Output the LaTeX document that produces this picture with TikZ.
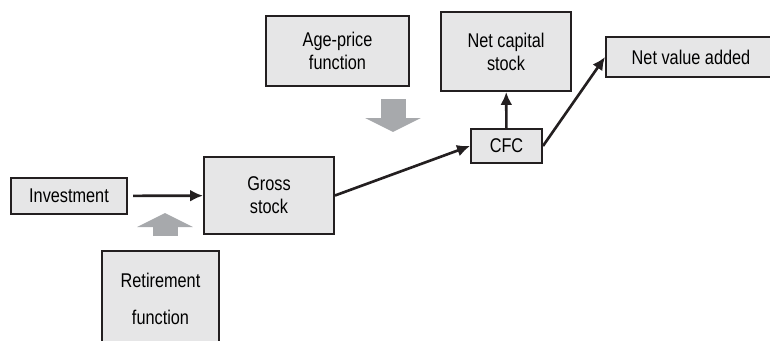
\documentclass[tikz,border=0pt]{standalone}
\usepackage{fontspec}
\setmainfont{Liberation Sans}[FakeStretch=0.82]
\usetikzlibrary{arrows.meta}
\definecolor{boxfill}{RGB}{230,230,231}
\definecolor{ink}{RGB}{35,31,32}
\definecolor{shade}{RGB}{167,169,172}
\tikzset{
  box/.style= {draw=ink, fill=boxfill, line width=1.1pt, inner sep=0pt,
               align=center, font=\fontsize{11.3}{13}\selectfont},
  conn/.style= {draw=ink, line width=1.5pt, -{Latex[length=2.6mm, width=2.4mm]}},
  bigarrow/.style= {draw=shade, line width=5mm, -{Triangle[width=11mm, length=2.8mm]}},
}

\begin{document}
\begin{tikzpicture}[x=0.2mm, y=-0.2mm]
  \useasboundingbox (0,0) rectangle (770,341);
  \clip (0,0) rectangle (770,341);

  \node [box, minimum width=23.2mm, minimum height=7.2mm] (inv) at (69,196) {Investment} ;
  \node [box, minimum width=26mm, minimum height=15.4mm] (gross) at (269,195.5) {Gross\\stock} ;
  \node [box, minimum width=23.4mm, minimum height=19mm] (ret) at (160.5,298.5) {Retirement\\[2.8mm]function} ;
  \node [box, minimum width=28.6mm, minimum height=14mm] (age) at (337.5,51) {Age-price\\function} ;
  \node [box, minimum width=26mm, minimum height=15.8mm] (net) at (506,51.5) {Net capital\\stock} ;
  \node [box, minimum width=14.2mm, minimum height=6.8mm] (cfc) at (506.5,146) {CFC} ;
  \node [box, minimum width=34mm, minimum height=8mm] (nva) at (691,57) {Net value added} ;

  % the two functions feeding in
  \coordinate (up0) at (165,236) ;
  \coordinate (up1) at (165,213) ;
  \coordinate (dn0) at (393,99) ;
  \coordinate (dn1) at (393,132) ;
  \draw [bigarrow] (up0) -- (up1) ;
  \draw [bigarrow] (dn0) -- (dn1) ;

  \draw [conn, shorten <=3pt] (inv) -- (gross) ;
  \draw [conn] (gross.east) -- (cfc.west) ;
  \draw [conn] (cfc) -- (net) ;
  \draw [conn] (cfc.east) -- (nva.west) ;
\end{tikzpicture}
\end{document}
